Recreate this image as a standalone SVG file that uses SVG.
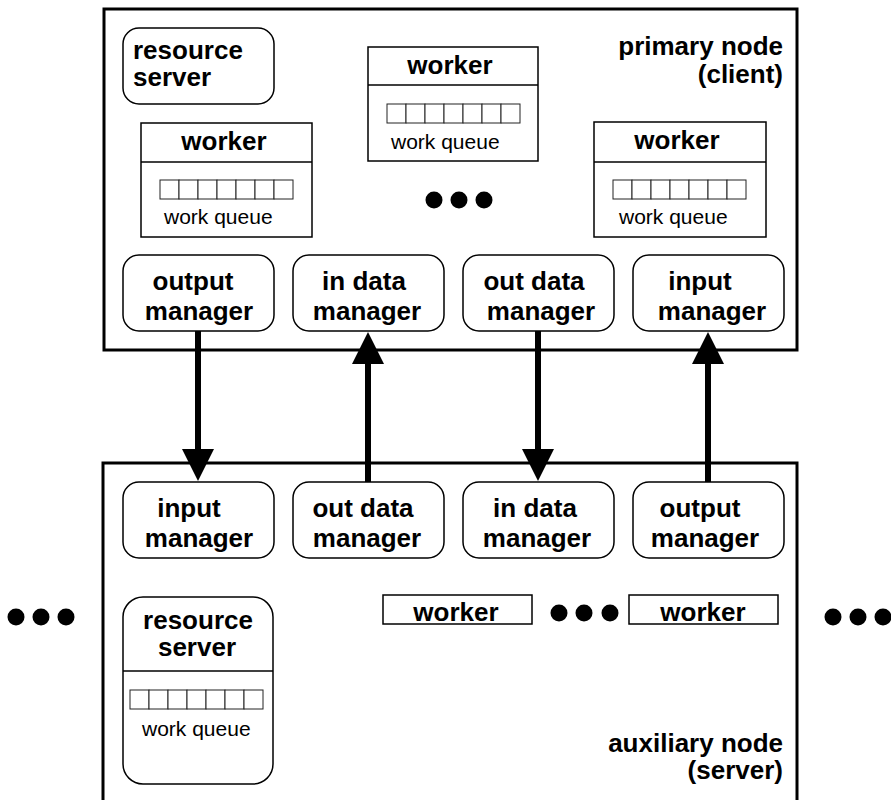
<svg xmlns="http://www.w3.org/2000/svg" width="891" height="800" viewBox="0 0 891 800">
  <style>
    .host { fill: none; stroke: #000; stroke-width: 3; }
    .box { fill: #fff; stroke: #000; stroke-width: 1.5; }
    .cell { fill: #fff; stroke: #222; stroke-width: 1; }
    .div { stroke: #000; stroke-width: 1.5; }
    .b { font-family: "Liberation Sans", Arial, sans-serif; font-weight: bold; font-size: 26px; fill: #000; }
    .bc { font-family: "Liberation Sans", Arial, sans-serif; font-weight: bold; font-size: 26px; fill: #000; text-anchor: middle; }
    .br { font-family: "Liberation Sans", Arial, sans-serif; font-weight: bold; font-size: 26px; fill: #000; text-anchor: end; }
    .q { font-family: "Liberation Sans", Arial, sans-serif; font-size: 21px; fill: #000; }
    .dot { fill: #000; }
    .link { stroke: #000; stroke-width: 6; fill: none; marker-end: url(#ah); }
  </style>
  <defs>
    <marker id="ah" markerUnits="userSpaceOnUse" viewBox="0 0 32 32" markerWidth="32" markerHeight="32" refX="1" refY="16" orient="auto">
      <path d="M0,0 L32,16 L0,32 z" fill="#000"/>
    </marker>
    <!-- seven-slot work queue -->
    <g id="queue">
      <rect class="cell" x="0" y="0" width="19" height="19"/>
      <rect class="cell" x="19" y="0" width="19" height="19"/>
      <rect class="cell" x="38" y="0" width="19" height="19"/>
      <rect class="cell" x="57" y="0" width="19" height="19"/>
      <rect class="cell" x="76" y="0" width="19" height="19"/>
      <rect class="cell" x="95" y="0" width="19" height="19"/>
      <rect class="cell" x="114" y="0" width="19" height="19"/>
    </g>
  </defs>

  <rect width="891" height="800" fill="#fff"/>

  <!-- primary node (client) -->
  <g id="primary-node">
    <rect class="host" x="104" y="9" width="693" height="341"/>
    <text class="br" x="783" y="55">primary node</text>
    <text class="br" x="783" y="83">(client)</text>
  </g>

  <g id="p-resource-server">
    <rect class="box" x="123" y="28" width="151" height="76" rx="16"/>
    <text class="b" x="133" y="59">resource</text>
    <text class="b" x="133" y="86">server</text>
  </g>

  <g id="p-worker-1">
    <rect class="box" x="141" y="123" width="171" height="114"/>
    <line class="div" x1="141" y1="162" x2="312" y2="162"/>
    <text class="bc" x="224" y="150">worker</text>
    <use href="#queue" x="160" y="180"/>
    <text class="q" x="164" y="224">work queue</text>
  </g>

  <g id="p-worker-2">
    <rect class="box" x="368" y="47" width="170" height="114"/>
    <line class="div" x1="368" y1="85" x2="538" y2="85"/>
    <text class="bc" x="450" y="74">worker</text>
    <use href="#queue" x="387" y="104"/>
    <text class="q" x="391" y="149">work queue</text>
  </g>

  <g id="p-worker-3">
    <rect class="box" x="594" y="122" width="172" height="115"/>
    <line class="div" x1="594" y1="162" x2="766" y2="162"/>
    <text class="bc" x="677" y="149">worker</text>
    <use href="#queue" x="613" y="180"/>
    <text class="q" x="619" y="224">work queue</text>
  </g>

  <g id="p-more-workers">
    <circle class="dot" cx="434" cy="200" r="8.5"/>
    <circle class="dot" cx="459" cy="200" r="8.5"/>
    <circle class="dot" cx="484" cy="200" r="8.5"/>
  </g>

  <g id="p-output-manager">
    <rect class="box" x="123" y="255" width="151" height="76" rx="16"/>
    <text class="bc" x="193" y="290">output</text>
    <text class="bc" x="199" y="320">manager</text>
  </g>
  <g id="p-in-data-manager">
    <rect class="box" x="293" y="255" width="151" height="76" rx="16"/>
    <text class="bc" x="364" y="290">in data</text>
    <text class="bc" x="367" y="320">manager</text>
  </g>
  <g id="p-out-data-manager">
    <rect class="box" x="463" y="255" width="151" height="76" rx="16"/>
    <text class="bc" x="534" y="290">out data</text>
    <text class="bc" x="541" y="320">manager</text>
  </g>
  <g id="p-input-manager">
    <rect class="box" x="633" y="255" width="151" height="76" rx="16"/>
    <text class="bc" x="700" y="290">input</text>
    <text class="bc" x="712" y="320">manager</text>
  </g>

  <!-- auxiliary node (server) -->
  <g id="auxiliary-node">
    <rect class="host" x="103" y="463" width="694" height="340"/>
    <text class="br" x="783" y="752">auxiliary node</text>
    <text class="br" x="783" y="779">(server)</text>
  </g>

  <g id="a-input-manager">
    <rect class="box" x="123" y="482" width="151" height="76" rx="16"/>
    <text class="bc" x="189" y="517">input</text>
    <text class="bc" x="199" y="547">manager</text>
  </g>
  <g id="a-out-data-manager">
    <rect class="box" x="293" y="482" width="151" height="76" rx="16"/>
    <text class="bc" x="363" y="517">out data</text>
    <text class="bc" x="367" y="547">manager</text>
  </g>
  <g id="a-in-data-manager">
    <rect class="box" x="463" y="482" width="151" height="76" rx="16"/>
    <text class="bc" x="535" y="517">in data</text>
    <text class="bc" x="537" y="547">manager</text>
  </g>
  <g id="a-output-manager">
    <rect class="box" x="633" y="482" width="151" height="76" rx="16"/>
    <text class="bc" x="700" y="517">output</text>
    <text class="bc" x="705" y="547">manager</text>
  </g>

  <g id="a-worker-1">
    <rect class="box" x="383" y="595" width="149" height="29"/>
    <text class="bc" x="456" y="621">worker</text>
  </g>
  <g id="a-more-workers">
    <circle class="dot" cx="559" cy="613" r="8.5"/>
    <circle class="dot" cx="584" cy="613" r="8.5"/>
    <circle class="dot" cx="610" cy="613" r="8.5"/>
  </g>
  <g id="a-worker-2">
    <rect class="box" x="629" y="595" width="149" height="29"/>
    <text class="bc" x="703" y="621">worker</text>
  </g>

  <g id="a-resource-server">
    <rect class="box" x="123" y="597" width="150" height="187" rx="20"/>
    <line class="div" x1="123" y1="671" x2="273" y2="671"/>
    <text class="bc" x="198" y="629">resource</text>
    <text class="bc" x="197" y="656">server</text>
    <use href="#queue" x="130" y="690"/>
    <text class="q" x="142" y="736">work queue</text>
  </g>

  <!-- further nodes on either side -->
  <g id="more-nodes-left">
    <circle class="dot" cx="16" cy="617" r="8.5"/>
    <circle class="dot" cx="41" cy="617" r="8.5"/>
    <circle class="dot" cx="66" cy="617" r="8.5"/>
  </g>
  <g id="more-nodes-right">
    <circle class="dot" cx="833" cy="617" r="8.5"/>
    <circle class="dot" cx="858" cy="617" r="8.5"/>
    <circle class="dot" cx="883" cy="617" r="8.5"/>
  </g>

  <!-- links between the managers of the two nodes -->
  <g id="connectors">
    <line class="link" x1="198" y1="331" x2="198" y2="450"/>
    <line class="link" x1="368" y1="482" x2="368" y2="363"/>
    <line class="link" x1="538" y1="331" x2="538" y2="450"/>
    <line class="link" x1="708" y1="482" x2="708" y2="363"/>
  </g>
</svg>
